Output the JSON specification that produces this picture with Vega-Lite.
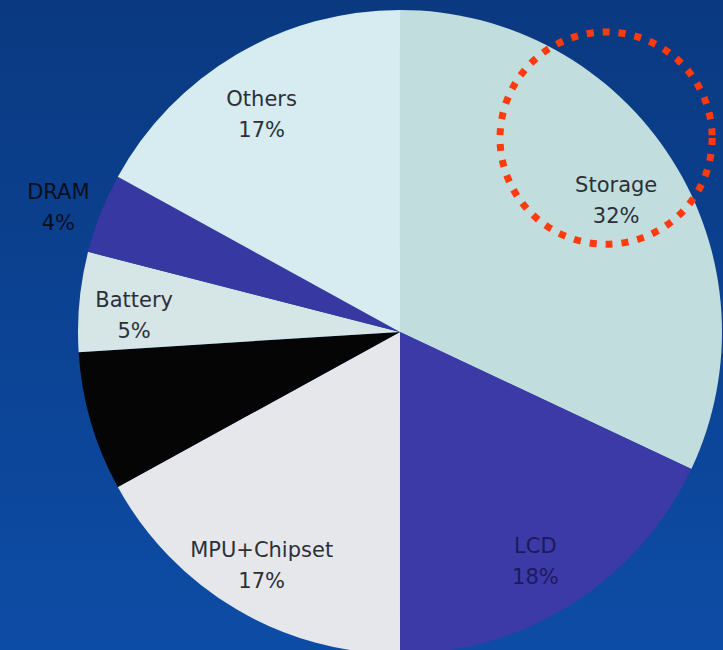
{
  "$schema": "https://vega.github.io/schema/vega-lite/v6.json",
  "width": 723,
  "height": 650,
  "padding": 0,
  "autosize": {"type": "none"},
  "config": {
    "view": {
      "stroke": null,
      "fill": {
        "gradient": "linear",
        "x1": 0, "y1": 0, "x2": 0, "y2": 1,
        "stops": [
          {"offset": 0, "color": "#0a3980"},
          {"offset": 1, "color": "#0d4ca6"}
        ]
      }
    },
    "text": {"font": "DejaVu Sans", "fontSize": 21, "lineHeight": 31, "color": "#2c3036"}
  },
  "data": {
    "values": [
      {"rank": 1, "part": "Storage", "value": 32},
      {"rank": 2, "part": "LCD", "value": 18},
      {"rank": 3, "part": "MPU+Chipset", "value": 17},
      {"rank": 4, "part": "Other components", "value": 7},
      {"rank": 5, "part": "Battery", "value": 5},
      {"rank": 6, "part": "DRAM", "value": 4},
      {"rank": 7, "part": "Others", "value": 17}
    ]
  },
  "transform": [
    {"calculate": "[datum.part, datum.value + '%']", "as": "label"}
  ],
  "encoding": {
    "x": {"datum": 0, "type": "quantitative", "scale": {"domain": [-1.242, 1.003], "nice": false, "zero": false}, "axis": null},
    "y": {"datum": 0, "type": "quantitative", "scale": {"domain": [-0.988, 1.031], "nice": false, "zero": false}, "axis": null},
    "theta": {"field": "value", "type": "quantitative", "stack": true},
    "order": {"field": "rank", "type": "quantitative"}
  },
  "layer": [
    {
      "mark": {"type": "arc", "radius": 322, "stroke": null},
      "encoding": {
        "color": {
          "field": "part",
          "type": "nominal",
          "scale": {
            "domain": ["Storage", "LCD", "MPU+Chipset", "Other components", "Battery", "DRAM", "Others"],
            "range": ["#c1dddd", "#3c3aa6", "#e6e7eb", "#050505", "#d6e5e5", "#3838a2", "#d7ecf0"]
          },
          "legend": null
        }
      }
    },
    {
      "mark": {"type": "text", "radius": 262, "align": "center", "baseline": "middle", "dx": -5, "dy": -6},
      "encoding": {
        "text": {
          "condition": {"test": "datum.part !== 'DRAM' && datum.part !== 'Other components'", "field": "label"},
          "value": ""
        },
        "color": {
          "condition": {"test": "datum.part === 'LCD'", "value": "#1c1a5c"},
          "value": "#2c3036"
        }
      }
    },
    {
      "mark": {"type": "text", "radius": 362, "align": "center", "baseline": "middle", "dx": -5, "dy": -6, "color": "#0a0f20"},
      "encoding": {
        "text": {
          "condition": {"test": "datum.part === 'DRAM'", "field": "label"},
          "value": ""
        }
      }
    },
    {
      "data": {"values": [{"note": "Storage"}]},
      "mark": {
        "type": "point",
        "shape": "circle",
        "filled": false,
        "size": 45000,
        "stroke": "#ff3a0c",
        "strokeWidth": 7,
        "strokeDash": [7, 9],
        "strokeCap": "butt",
        "opacity": 1
      },
      "encoding": {
        "x": {"datum": 0.64, "type": "quantitative"},
        "y": {"datum": 0.602, "type": "quantitative"},
        "theta": null,
        "order": null
      }
    }
  ]
}
